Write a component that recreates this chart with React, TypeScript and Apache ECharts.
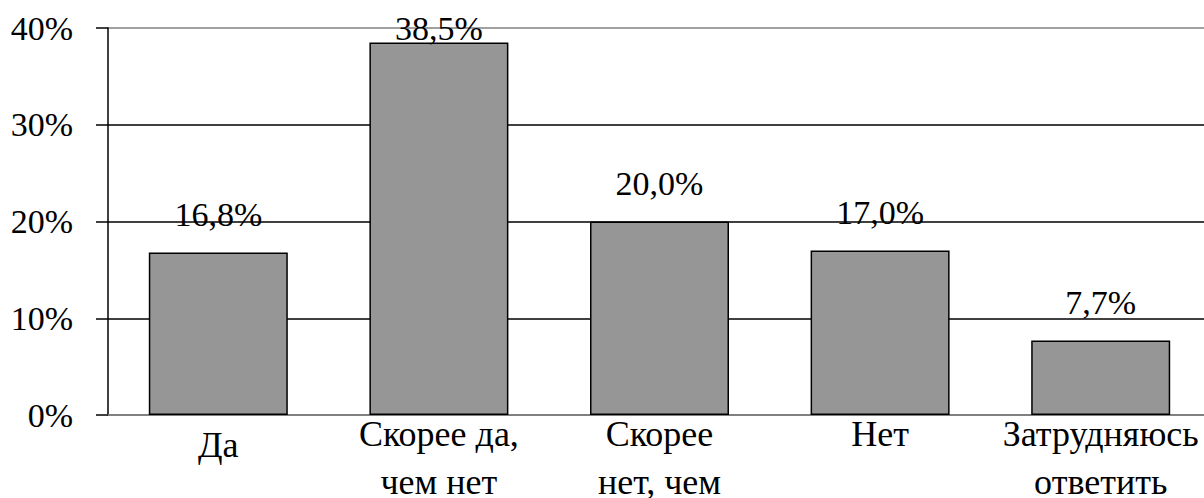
import React, { useEffect, useRef } from "react";
import * as echarts from "echarts";

const categories = ["Да", "Скорее да,\nчем нет", "Скорее\nнет, чем\nда", "Нет", "Затрудняюсь\nответить"];
const values = [16.8, 38.5, 20.0, 17.0, 7.7];
const yTicks = [0, 10, 20, 30, 40];

const FONT = "Liberation Serif";

export default function App() {
  const ref = useRef<HTMLDivElement>(null);
  useEffect(() => {
    if (!ref.current) return;
    const chart = echarts.init(ref.current, undefined, { renderer: "svg" });
    const fmt = (v: number) => v.toFixed(1).replace(".", ",") + "%";
    chart.setOption({
      animation: false,
      textStyle: { fontFamily: FONT },
      grid: { left: 108, right: -7, top: 28, bottom: 83, containLabel: false, outerBoundsMode: "none" },
      xAxis: {
        type: "category",
        data: categories.map((c, i) =>
          i === 0 ? { value: c, textStyle: { padding: [11, 0, 0, 0] } } : c
        ),
        axisLine: { show: true, lineStyle: { color: "#808080", width: 2 } },
        axisTick: { show: false },
        axisLabel: {
          interval: 0,
          color: "#000",
          fontFamily: FONT,
          fontSize: 36,
          lineHeight: 48,
          margin: -5,
        },
      },
      yAxis: {
        type: "value",
        min: yTicks[0],
        max: yTicks[yTicks.length - 1],
        interval: 10,
        axisLine: { show: true, lineStyle: { color: "#000", width: 1.5 } },
        axisTick: { show: true, inside: false, length: 12, lineStyle: { color: "#000", width: 1.5 } },
        axisLabel: {
          formatter: "{value}%",
          color: "#000",
          fontFamily: FONT,
          fontSize: 34,
          margin: 35,
        },
        splitLine: {
          show: true,
          lineStyle: { color: ["#808080", "#000", "#000", "#000", "#808080"], width: 1.5 },
        },
      },
      series: [
        {
          type: "bar",
          data: values.map((v) =>
            v === 38.5
              ? { value: v, label: { distance: -3 } }
              : { value: v }
          ),
          barWidth: 139,
          itemStyle: { color: "#969696", borderColor: "#000", borderWidth: 1.5 },
          label: {
            show: true,
            position: "top",
            distance: 21,
            color: "#000",
            fontFamily: FONT,
            fontSize: 34,
            formatter: (p: any) => fmt(p.value),
          },
        },
      ],
    });
    return () => chart.dispose();
  }, []);
  return (
    <div
      ref={ref}
      style={{ position: "fixed", left: 0, top: 0, width: 1204, height: 498, background: "#fff" }}
    />
  );
}
